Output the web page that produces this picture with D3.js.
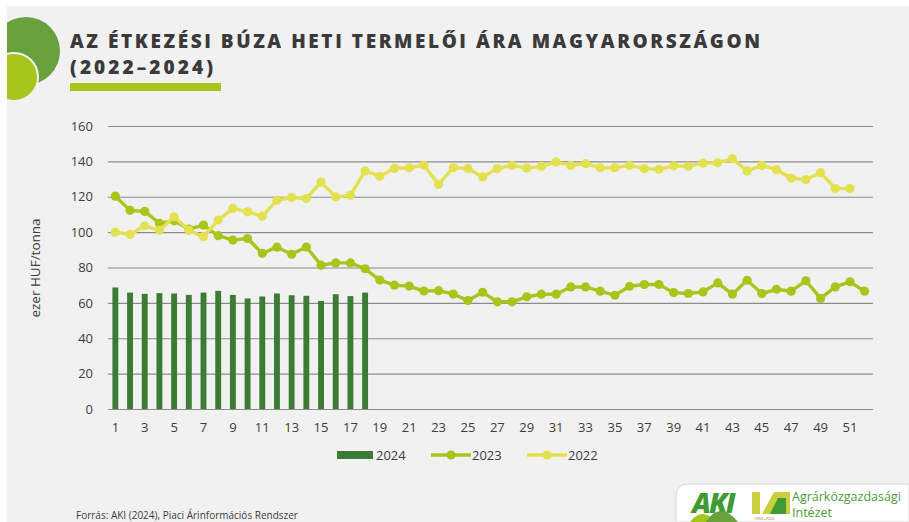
<!DOCTYPE html>
<html>
<head>
<meta charset="utf-8">
<script src="https://cdn.jsdelivr.net/npm/d3@7"></script>
<style>
  html, body { margin: 0; padding: 0; background: #ffffff; }
  svg { display: block; font-family: "Open Sans", "DejaVu Sans", sans-serif; }
</style>
</head>
<body>
<svg id="chart" width="909" height="522"></svg>
<script>
// Hetek (kategóriák)
const weeks = [1,2,3,4,5,6,7,8,9,10,11,12,13,14,15,16,17,18,19,20,21,22,23,24,25,26,
  27,28,29,30,31,32,33,34,35,36,37,38,39,40,41,42,43,44,45,46,47,48,49,50,51,52];
const weekLabels = [1,3,5,7,9,11,13,15,17,19,21,23,25,27,29,31,33,35,37,39,41,43,45,47,49,51];
const yTicks = [0, 20, 40, 60, 80, 100, 120, 140, 160];

// ezer HUF/tonna
const price2024 = [68.7, 65.8, 65.1, 65.5, 65.3, 64.5, 65.8, 66.8, 64.5, 62.5, 63.6, 65.3,
  64.3, 64.0, 61.1, 64.9, 63.8, 65.8];
const price2023 = [120.3, 112.3, 111.7, 105.0, 106.4, 101.7, 104.0, 98.0, 95.5, 96.4,
  88.0, 91.5, 87.5, 91.6, 81.3, 82.6, 82.6, 79.3, 72.9, 70.0,
  69.5, 66.7, 66.9, 65.0, 61.3, 66.0, 60.6, 60.6, 63.4, 64.9,
  64.9, 69.0, 69.0, 66.6, 64.3, 69.4, 70.4, 70.4, 65.8, 65.3,
  66.2, 71.3, 64.9, 72.8, 65.3, 67.7, 66.6, 72.5, 62.5, 69.0, 71.9, 66.6];
const price2022 = [100.0, 98.7, 103.6, 101.0, 108.7, 101.0, 97.4, 106.8, 113.4, 111.5,
  109.0, 118.0, 119.6, 119.0, 128.3, 119.8, 120.9, 134.6, 131.6, 136.0,
  136.4, 137.8, 127.0, 136.4, 136.0, 131.2, 135.9, 137.7, 136.2, 137.2,
  139.6, 137.7, 138.7, 136.4, 136.4, 137.7, 135.9, 135.5, 137.5, 137.2,
  139.0, 139.2, 141.5, 134.6, 137.7, 135.3, 130.6, 129.7, 133.6, 124.6, 124.6];

const SZIN_2024 = "#3b7b33";
const SZIN_2023 = "#a7c51b";
const SZIN_2022 = "#e3e14f";

const svg = d3.select("#chart");

// háttér
svg.append("rect").attr("x", 7).attr("y", 6).attr("width", 902).attr("height", 516).attr("fill", "#f1f1f1");

// bal felső díszkörök
const deco = svg.append("g");
deco.append("clipPath").attr("id", "decoClip")
  .append("rect").attr("x", 7).attr("y", 6).attr("width", 200).attr("height", 200);
const decoG = deco.append("g").attr("clip-path", "url(#decoClip)");
decoG.append("circle").attr("cx", 26).attr("cy", 51).attr("r", 34).attr("fill", "#67a03c");
decoG.append("circle").attr("cx", 14).attr("cy", 77).attr("r", 24)
  .attr("fill", "#a7c51b").attr("stroke", "#f1f1f1").attr("stroke-width", 2);

// cím
svg.append("text").attr("x", 70).attr("y", 48)
  .attr("fill", "#3a3a3a").style("font-size", "19px").style("font-weight", 800)
  .attr("textLength", 690).attr("lengthAdjust", "spacing")
  .text("AZ ÉTKEZÉSI BÚZA HETI TERMELŐI ÁRA MAGYARORSZÁGON");
svg.append("text").attr("x", 70).attr("y", 74)
  .attr("fill", "#3a3a3a").style("font-size", "19px").style("font-weight", 800)
  .attr("textLength", 143).attr("lengthAdjust", "spacing")
  .text("(2022–2024)");
svg.append("rect").attr("x", 70).attr("y", 83).attr("width", 151).attr("height", 8).attr("fill", "#a7c51b");

// skálák
const plotLeft = 108, plotRight = 872;
const x = d3.scaleBand().domain(weeks).range([plotLeft, plotRight]).padding(0);
const xBar = d3.scaleBand().domain(weeks).range([plotLeft, plotRight]).paddingInner(0.6).paddingOuter(0.3);
const y = d3.scaleLinear().domain([0, 160]).range([409, 126]);
const cx = w => x(w) + x.bandwidth() / 2;

// rácsvonalak
const grid = svg.append("g").attr("transform", `translate(${plotLeft},0)`)
  .call(d3.axisLeft(y).tickValues(yTicks).tickSize(-(plotRight - plotLeft + 1)).tickFormat(""));
grid.select(".domain").remove();
grid.selectAll(".tick line").attr("stroke", "#8c8c8c").attr("stroke-width", 1.2);

// y tengely feliratok
const yAx = svg.append("g").attr("transform", "translate(93,0)")
  .call(d3.axisLeft(y).tickValues(yTicks).tickSize(0).tickPadding(0));
yAx.select(".domain").remove();
yAx.selectAll("text").attr("fill", "#3c3c3c").style("font-size", "13px").style("font-family", "'Open Sans', sans-serif");

svg.append("text")
  .attr("transform", "translate(40,268) rotate(-90)")
  .attr("text-anchor", "middle").attr("fill", "#3c3c3c").style("font-size", "13.5px")
  .text("ezer HUF/tonna");

// x tengely feliratok
const xAx = svg.append("g").attr("transform", "translate(0,423)")
  .call(d3.axisBottom(x).tickValues(weekLabels).tickSize(0).tickPadding(0));
xAx.select(".domain").remove();
xAx.selectAll("text").attr("fill", "#3c3c3c").style("font-size", "13px").style("font-family", "'Open Sans', sans-serif");

// 2024 oszlopok
svg.append("g").selectAll("rect")
  .data(price2024)
  .join("rect")
  .attr("x", (d, i) => xBar(weeks[i]))
  .attr("width", xBar.bandwidth())
  .attr("y", d => y(d))
  .attr("height", d => y(0) - y(d))
  .attr("fill", SZIN_2024);

// vonalak
function rajzolVonal(adat, szin) {
  const g = svg.append("g");
  const vonal = d3.line().x((d, i) => cx(weeks[i])).y(d => y(d));
  g.append("path").datum(adat).attr("d", vonal)
    .attr("fill", "none").attr("stroke", szin).attr("stroke-width", 3.4).attr("stroke-linejoin", "round");
  g.selectAll("circle").data(adat).join("circle")
    .attr("cx", (d, i) => cx(weeks[i])).attr("cy", d => y(d)).attr("r", 4.6).attr("fill", szin);
}
rajzolVonal(price2023, SZIN_2023);
rajzolVonal(price2022, SZIN_2022);

// jelmagyarázat
const leg = svg.append("g").style("font-size", "13px");
leg.append("rect").attr("x", 337).attr("y", 451).attr("width", 36).attr("height", 8).attr("fill", SZIN_2024);
leg.append("text").attr("x", 376).attr("y", 460).attr("fill", "#3c3c3c").text("2024");
[[431, SZIN_2023, "2023"], [527, SZIN_2022, "2022"]].forEach(([lx, szin, cimke]) => {
  leg.append("line").attr("x1", lx).attr("x2", lx + 40).attr("y1", 455).attr("y2", 455)
    .attr("stroke", szin).attr("stroke-width", 3.4);
  leg.append("circle").attr("cx", lx + 20).attr("cy", 455).attr("r", 4.6).attr("fill", szin);
  leg.append("text").attr("x", lx + 41).attr("y", 460).attr("fill", "#3c3c3c").text(cimke);
});

// forrás
svg.append("text").attr("x", 76).attr("y", 519).attr("fill", "#3c3c3c").style("font-size", "10px")
  .text("Forrás: AKI (2024), Piaci Árinformációs Rendszer");

// AKI logó
const logo = svg.append("g");
logo.append("path")
  .attr("d", "M676,522 L676,496 Q676,484 688,484 L909,484 L909,522 Z")
  .attr("fill", "#ffffff").attr("stroke", "#d8d8d8").attr("stroke-width", 1);
logo.append("text").attr("x", 692).attr("y", 513).attr("fill", "#3f9a34")
  .style("font-size", "28px").style("font-weight", 900).style("font-style", "italic")
  .style("letter-spacing", "-2px").text("AKI");
logo.append("path").attr("d", "M690,522 Q702,506 716,522 Z").attr("fill", "#a7c51b");
logo.append("path").attr("d", "M706,522 Q720,500 738,522 Z").attr("fill", "#67a03c");
logo.append("rect").attr("x", 752).attr("y", 492).attr("width", 8).attr("height", 22).attr("fill", "#c9cf3e");
logo.append("path").attr("d", "M762,514 L774,492 L790,492 L790,514 Z").attr("fill", "#c9cf3e");
logo.append("path").attr("d", "M770,514 L778,498 L786,498 L786,514 Z").attr("fill", "#3f9a34");
logo.append("text").attr("x", 754).attr("y", 520).attr("fill", "#8a8a3a").style("font-size", "4px").text("1954–2024");
logo.append("text").attr("x", 792).attr("y", 501).attr("fill", "#4d9a3c").style("font-size", "12.5px")
  .text("Agrárközgazdasági");
logo.append("text").attr("x", 792).attr("y", 517).attr("fill", "#4d9a3c").style("font-size", "12.5px")
  .text("Intézet");
</script>
</body>
</html>
